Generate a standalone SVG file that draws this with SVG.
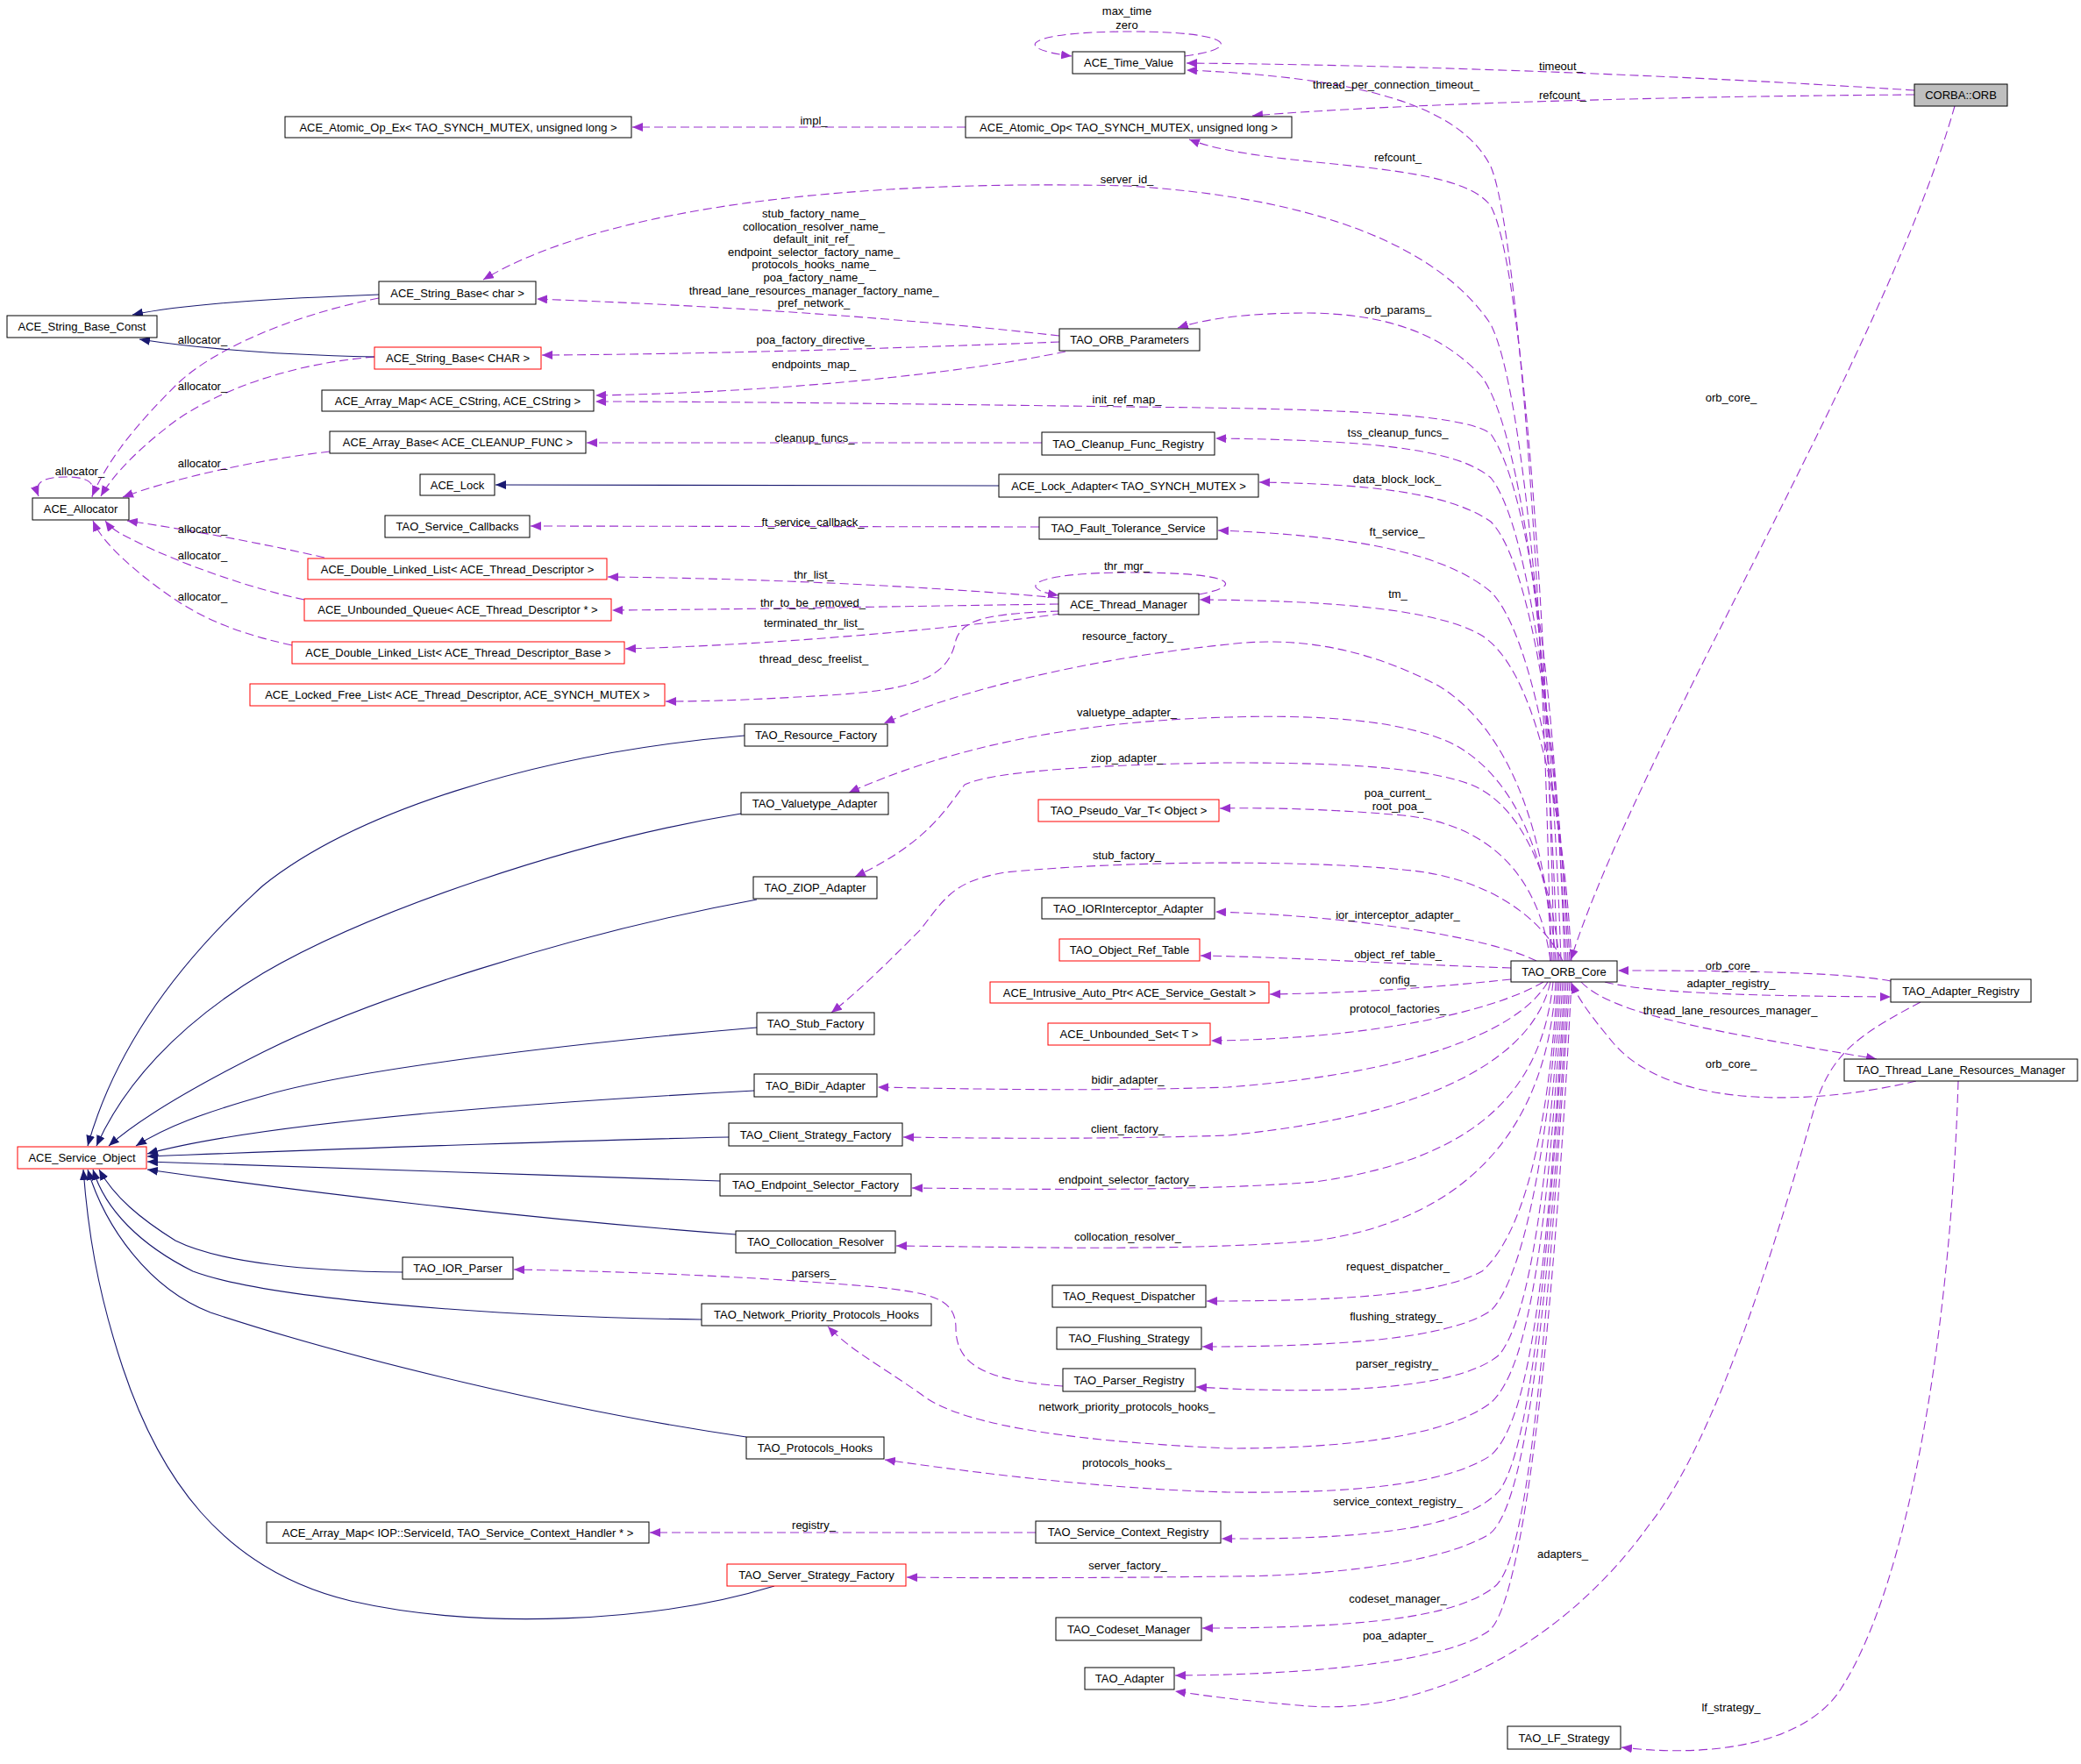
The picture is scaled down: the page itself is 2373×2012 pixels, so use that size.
<svg xmlns="http://www.w3.org/2000/svg" width="2373" height="2012" viewBox="0 0 2373 2012">
<defs>
<style>
.n rect{fill:#fff;stroke:#000;stroke-width:1}
.r rect{stroke:#f00}
.g rect{fill:#bfbfbf}
text{font-family:"Liberation Sans",Arial,sans-serif;font-size:13px;fill:#000;text-anchor:middle}
.u{fill:none;stroke:#9a32cd;stroke-width:1.1;stroke-dasharray:10,5;marker-end:url(#au)}
.i{fill:none;stroke:#191970;stroke-width:1.1;marker-end:url(#ai)}
</style>
<marker id="au" markerUnits="userSpaceOnUse" markerWidth="13" markerHeight="10" refX="12" refY="5" orient="auto"><path d="M0,0 L12,5 L0,10 z" fill="#9a32cd"/></marker>
<marker id="ai" markerUnits="userSpaceOnUse" markerWidth="13" markerHeight="10" refX="12" refY="5" orient="auto"><path d="M0,0 L12,5 L0,10 z" fill="#191970"/></marker>
</defs>
<rect width="2373" height="2012" fill="#fff"/>
<g id="edges">
<path class="u" d="M1351,64 C1420,55 1405,36 1290,36 C1170,36 1150,55 1222,64"/>
<path class="u" d="M2183,103 C1900,85 1600,74 1353,72"/>
<path class="u" d="M1768,1096 C1762,700 1730,260 1700,190 C1665,120 1550,88 1353,80"/>
<path class="u" d="M2183,108 C1900,110 1600,118 1428,132"/>
<path class="u" d="M1772,1096 C1765,700 1735,300 1700,235 C1660,180 1450,195 1356,159"/>
<path class="u" d="M1101,145 L721,145"/>
<path class="u" d="M1776,1096 C1765,800 1740,450 1700,370 C1640,280 1500,225 1285,212 C1000,205 700,230 551,319"/>
<path class="u" d="M1208,383 C1050,365 850,350 612,341"/>
<path class="u" d="M1208,390 C1000,398 800,404 618,405"/>
<path class="u" d="M1215,401 C1100,425 900,447 679,451"/>
<path class="u" d="M1780,1096 C1770,800 1740,500 1690,430 C1640,375 1570,358 1493,357 C1430,357 1380,362 1343,374"/>
<path class="u" d="M1784,1096 C1775,800 1745,560 1700,495 C1670,470 1500,466 1285,464 C1000,460 800,458 679,458"/>
<path class="u" d="M1786,1096 C1775,850 1745,600 1700,545 C1660,510 1550,502 1386,500"/>
<path class="u" d="M1188,505 L669,505"/>
<path class="u" d="M1788,1096 C1778,850 1745,640 1700,595 C1650,560 1550,552 1436,550"/>
<path class="u" d="M1185,601 L605,600"/>
<path class="u" d="M1790,1096 C1780,900 1745,720 1700,675 C1640,625 1520,610 1389,605"/>
<path class="u" d="M1367,678 C1420,668 1410,653 1290,653 C1170,653 1160,672 1207,679"/>
<path class="u" d="M1207,682 C1100,672 900,660 693,658"/>
<path class="u" d="M1207,689 C1000,692 850,695 698,696"/>
<path class="u" d="M1210,700 C1100,715 900,735 713,740"/>
<path class="u" d="M1208,697 C1130,700 1098,705 1090,730 C1082,770 1050,785 960,792 C880,797 820,800 759,800"/>
<path class="u" d="M1792,1096 C1782,900 1745,760 1690,725 C1640,695 1520,685 1368,684"/>
<path class="u" d="M1770,1096 C1765,950 1720,830 1640,782 C1560,740 1480,725 1400,735 C1250,750 1100,785 1008,825"/>
<path class="u" d="M1774,1096 C1765,980 1730,890 1660,850 C1600,820 1500,815 1400,818 C1250,822 1100,845 968,904"/>
<path class="u" d="M1778,1096 C1770,1000 1735,920 1680,896 C1620,872 1500,870 1400,870 C1250,872 1130,880 1100,895 C1080,920 1060,960 975,1000"/>
<path class="u" d="M1782,1096 C1760,1050 1700,1000 1600,992 C1500,982 1300,980 1146,995 C1090,1005 1080,1020 1050,1060 C1010,1100 980,1130 948,1155"/>
<path class="u" d="M1768,1096 C1755,1000 1700,940 1600,930 C1520,923 1450,921 1391,922"/>
<path class="u" d="M1752,1096 C1700,1070 1550,1045 1386,1040"/>
<path class="u" d="M1723,1104 C1600,1100 1480,1092 1369,1090"/>
<path class="u" d="M1723,1117 C1620,1128 1530,1133 1448,1134"/>
<path class="u" d="M1760,1120 C1700,1155 1560,1185 1381,1187"/>
<path class="u" d="M1765,1120 C1730,1180 1600,1225 1400,1240 C1250,1245 1100,1242 1001,1240"/>
<path class="u" d="M1768,1120 C1750,1200 1650,1270 1400,1295 C1250,1300 1100,1298 1030,1297"/>
<path class="u" d="M1771,1120 C1760,1230 1700,1320 1500,1348 C1350,1360 1150,1356 1040,1355"/>
<path class="u" d="M1774,1120 C1765,1280 1680,1390 1500,1415 C1350,1428 1150,1422 1022,1421"/>
<path class="u" d="M1776,1120 C1765,1300 1735,1410 1690,1450 C1640,1478 1520,1484 1376,1484"/>
<path class="u" d="M1778,1120 C1765,1320 1735,1460 1700,1495 C1650,1528 1520,1536 1371,1536"/>
<path class="u" d="M1780,1120 C1765,1350 1745,1500 1710,1545 C1660,1588 1500,1590 1364,1582"/>
<path class="u" d="M1212,1581 C1130,1575 1090,1560 1090,1515 C1090,1480 1060,1475 1000,1468 C850,1455 700,1450 586,1448"/>
<path class="u" d="M1782,1120 C1765,1400 1745,1560 1700,1600 C1640,1645 1500,1652 1400,1652 C1250,1645 1100,1630 1050,1590 C1000,1555 970,1540 944,1513"/>
<path class="u" d="M1784,1120 C1765,1450 1745,1620 1700,1660 C1640,1700 1500,1703 1400,1702 C1250,1698 1100,1678 1009,1665"/>
<path class="u" d="M1786,1120 C1765,1450 1745,1650 1710,1700 C1670,1745 1550,1756 1393,1755"/>
<path class="u" d="M1181,1748 L741,1748"/>
<path class="u" d="M1788,1120 C1765,1500 1740,1720 1698,1750 C1640,1785 1500,1798 1400,1798 C1250,1800 1100,1800 1034,1799"/>
<path class="u" d="M1790,1120 C1765,1500 1745,1780 1704,1810 C1660,1845 1550,1857 1371,1857"/>
<path class="u" d="M1792,1120 C1770,1550 1735,1830 1698,1860 C1650,1895 1500,1910 1340,1911"/>
<path class="u" d="M2190,1143 C2120,1180 2090,1200 2070,1260 C2030,1400 1960,1640 1880,1740 C1780,1880 1620,1960 1480,1945 C1420,1940 1380,1935 1340,1929"/>
<path class="u" d="M2233,1233 C2225,1500 2180,1800 2100,1925 C2060,1990 1950,2005 1849,1993"/>
<path class="u" d="M2229,121 C2150,400 1870,850 1791,1095"/>
<path class="u" d="M2156,1119 C2100,1108 1950,1107 1845,1107"/>
<path class="u" d="M1830,1120 C1880,1133 2000,1136 2156,1137"/>
<path class="u" d="M1803,1120 C1840,1160 1980,1180 2140,1208"/>
<path class="u" d="M2185,1233 C2050,1265 1900,1260 1840,1190 C1815,1160 1800,1140 1792,1121"/>
<path class="u" d="M432,340 C330,360 240,400 200,440 C160,480 125,520 105,566"/>
<path class="u" d="M427,407 C330,415 250,445 200,480 C160,510 130,540 115,566"/>
<path class="u" d="M376,515 C290,525 200,545 140,567"/>
<path class="u" d="M105,567 C110,550 100,544 75,544 C50,544 38,550 44,566"/>
<path class="u" d="M370,636 C300,620 220,605 145,594"/>
<path class="u" d="M347,684 C280,670 200,640 160,620 C140,610 128,605 120,594"/>
<path class="u" d="M333,736 C260,720 220,700 180,670 C140,640 115,615 106,594"/>
<path class="i" d="M432,336 C330,340 220,345 151,359"/>
<path class="i" d="M427,407 C330,405 230,398 159,387"/>
<path class="i" d="M1139,554 L565,553"/>
<path class="i" d="M849,839 C600,860 400,930 300,1010 C200,1100 130,1200 100,1307"/>
<path class="i" d="M845,928 C650,960 420,1040 300,1110 C200,1170 140,1240 110,1307"/>
<path class="i" d="M863,1026 C650,1065 420,1140 300,1200 C220,1240 160,1275 124,1307"/>
<path class="i" d="M863,1172 C650,1190 400,1220 300,1250 C230,1270 190,1285 155,1307"/>
<path class="i" d="M860,1244 C600,1258 300,1280 168,1316"/>
<path class="i" d="M831,1297 C600,1302 350,1312 168,1319"/>
<path class="i" d="M821,1347 C600,1340 350,1330 168,1325"/>
<path class="i" d="M839,1408 C600,1390 350,1360 168,1334"/>
<path class="i" d="M459,1451 C350,1450 250,1440 200,1415 C160,1390 130,1365 113,1334"/>
<path class="i" d="M800,1505 C550,1502 300,1480 220,1450 C160,1420 120,1380 106,1334"/>
<path class="i" d="M851,1639 C650,1610 400,1550 240,1497 C170,1470 120,1400 100,1334"/>
<path class="i" d="M883,1809 C750,1850 550,1860 400,1826 C250,1790 180,1680 140,1560 C110,1470 100,1400 95,1334"/>
</g>
<g id="edge-labels">
<text x="1285" y="17">max_time</text>
<text x="1285" y="32.5">zero</text>
<text x="1780" y="79.5">timeout_</text>
<text x="1592" y="100.5">thread_per_connection_timeout_</text>
<text x="1782" y="112.5">refcount_</text>
<text x="928" y="141.5">impl_</text>
<text x="1594" y="183.5">refcount_</text>
<text x="1285" y="208.5">server_id_</text>
<text x="928" y="248">stub_factory_name_</text>
<text x="928" y="262.6">collocation_resolver_name_</text>
<text x="928" y="277.2">default_init_ref_</text>
<text x="928" y="291.8">endpoint_selector_factory_name_</text>
<text x="928" y="306.4">protocols_hooks_name_</text>
<text x="928" y="321">poa_factory_name_</text>
<text x="928" y="335.6">thread_lane_resources_manager_factory_name_</text>
<text x="928" y="350.2">pref_network_</text>
<text x="1594" y="357.5">orb_params_</text>
<text x="928" y="392">poa_factory_directive_</text>
<text x="231" y="391.5">allocator_</text>
<text x="928" y="419.5">endpoints_map_</text>
<text x="231" y="444.5">allocator_</text>
<text x="1974" y="457.5">orb_core_</text>
<text x="1285" y="459.5">init_ref_map_</text>
<text x="1594" y="497.5">tss_cleanup_funcs_</text>
<text x="929" y="503.5">cleanup_funcs_</text>
<text x="231" y="532.5">allocator_</text>
<text x="91" y="541.5">allocator_</text>
<text x="1593" y="550.5">data_block_lock_</text>
<text x="927" y="599.5">ft_service_callback_</text>
<text x="231" y="607.5">allocator_</text>
<text x="1593" y="610.5">ft_service_</text>
<text x="231" y="637.5">allocator_</text>
<text x="1285" y="649.5">thr_mgr_</text>
<text x="928" y="659.5">thr_list_</text>
<text x="1594" y="681.5">tm_</text>
<text x="231" y="684.5">allocator_</text>
<text x="927" y="691.5">thr_to_be_removed_</text>
<text x="928" y="714.5">terminated_thr_list_</text>
<text x="1286" y="729.5">resource_factory_</text>
<text x="928" y="755.5">thread_desc_freelist_</text>
<text x="1285" y="816.5">valuetype_adapter_</text>
<text x="1285" y="868.5">ziop_adapter_</text>
<text x="1594" y="908.5">poa_current_</text>
<text x="1594" y="923.5">root_poa_</text>
<text x="1285" y="979.5">stub_factory_</text>
<text x="1594" y="1047.5">ior_interceptor_adapter_</text>
<text x="1594" y="1092.5">object_ref_table_</text>
<text x="1974" y="1105.5">orb_core_</text>
<text x="1594" y="1121.5">config_</text>
<text x="1974" y="1125.5">adapter_registry_</text>
<text x="1594" y="1154.5">protocol_factories_</text>
<text x="1973" y="1156.5">thread_lane_resources_manager_</text>
<text x="1974" y="1217.5">orb_core_</text>
<text x="1286" y="1235.5">bidir_adapter_</text>
<text x="1286" y="1291.5">client_factory_</text>
<text x="1285" y="1349.5">endpoint_selector_factory_</text>
<text x="1286" y="1414.5">collocation_resolver_</text>
<text x="1594" y="1448.5">request_dispatcher_</text>
<text x="928" y="1456.5">parsers_</text>
<text x="1592" y="1505.5">flushing_strategy_</text>
<text x="1593" y="1559.5">parser_registry_</text>
<text x="1285" y="1609">network_priority_protocols_hooks_</text>
<text x="1285" y="1672.5">protocols_hooks_</text>
<text x="1594" y="1716.5">service_context_registry_</text>
<text x="928" y="1743.5">registry_</text>
<text x="1782" y="1776.5">adapters_</text>
<text x="1286" y="1789.5">server_factory_</text>
<text x="1594" y="1827.5">codeset_manager_</text>
<text x="1594" y="1869.5">poa_adapter_</text>
<text x="1974" y="1951.5">lf_strategy_</text>
</g>
<g id="n_CORBA_ORB" class="n g"><rect x="2183" y="96" width="106" height="25"/><text x="2236" y="113">CORBA::ORB</text></g>
<g id="n_ACE_Time_Value" class="n"><rect x="1223" y="59" width="128" height="25"/><text x="1287" y="76">ACE_Time_Value</text></g>
<g id="n_ACE_Atomic_Op" class="n"><rect x="1101" y="133" width="372" height="24"/><text x="1287" y="149.5">ACE_Atomic_Op&lt; TAO_SYNCH_MUTEX, unsigned long &gt;</text></g>
<g id="n_ACE_Atomic_Op_Ex" class="n"><rect x="325" y="133" width="395" height="24"/><text x="522.5" y="149.5">ACE_Atomic_Op_Ex&lt; TAO_SYNCH_MUTEX, unsigned long &gt;</text></g>
<g id="n_ACE_String_Base_char" class="n"><rect x="432" y="321" width="179" height="26"/><text x="521.5" y="338.5">ACE_String_Base&lt; char &gt;</text></g>
<g id="n_ACE_String_Base_Const" class="n"><rect x="8" y="360" width="171" height="25"/><text x="93.5" y="377">ACE_String_Base_Const</text></g>
<g id="n_ACE_String_Base_CHAR" class="n r"><rect x="427" y="396" width="190" height="25"/><text x="522" y="413">ACE_String_Base&lt; CHAR &gt;</text></g>
<g id="n_ACE_Array_Map_CString" class="n"><rect x="367" y="445" width="310" height="24"/><text x="522" y="461.5">ACE_Array_Map&lt; ACE_CString, ACE_CString &gt;</text></g>
<g id="n_ACE_Array_Base" class="n"><rect x="376" y="492" width="292" height="25"/><text x="522" y="509">ACE_Array_Base&lt; ACE_CLEANUP_FUNC &gt;</text></g>
<g id="n_ACE_Lock" class="n"><rect x="479" y="541" width="85" height="24"/><text x="521.5" y="557.5">ACE_Lock</text></g>
<g id="n_TAO_Service_Callbacks" class="n"><rect x="439" y="588" width="165" height="25"/><text x="521.5" y="605">TAO_Service_Callbacks</text></g>
<g id="n_ACE_Allocator" class="n"><rect x="37" y="568" width="110" height="25"/><text x="92" y="585">ACE_Allocator</text></g>
<g id="n_ACE_DLL_TD" class="n r"><rect x="351" y="637" width="341" height="24"/><text x="521.5" y="653.5">ACE_Double_Linked_List&lt; ACE_Thread_Descriptor &gt;</text></g>
<g id="n_ACE_Unbounded_Queue" class="n r"><rect x="347" y="683" width="350" height="25"/><text x="522" y="700">ACE_Unbounded_Queue&lt; ACE_Thread_Descriptor * &gt;</text></g>
<g id="n_ACE_DLL_TDB" class="n r"><rect x="333" y="732" width="379" height="25"/><text x="522.5" y="749">ACE_Double_Linked_List&lt; ACE_Thread_Descriptor_Base &gt;</text></g>
<g id="n_ACE_Locked_Free_List" class="n r"><rect x="285" y="780" width="473" height="25"/><text x="521.5" y="797">ACE_Locked_Free_List&lt; ACE_Thread_Descriptor, ACE_SYNCH_MUTEX &gt;</text></g>
<g id="n_ACE_Service_Object" class="n r"><rect x="20" y="1308" width="147" height="25"/><text x="93.5" y="1325">ACE_Service_Object</text></g>
<g id="n_TAO_ORB_Parameters" class="n"><rect x="1208" y="375" width="160" height="25"/><text x="1288" y="392">TAO_ORB_Parameters</text></g>
<g id="n_TAO_Cleanup_Func_Registry" class="n"><rect x="1188" y="493" width="197" height="26"/><text x="1286.5" y="510.5">TAO_Cleanup_Func_Registry</text></g>
<g id="n_ACE_Lock_Adapter" class="n"><rect x="1139" y="541" width="296" height="26"/><text x="1287" y="558.5">ACE_Lock_Adapter&lt; TAO_SYNCH_MUTEX &gt;</text></g>
<g id="n_TAO_Fault_Tolerance_Service" class="n"><rect x="1185" y="590" width="203" height="25"/><text x="1286.5" y="607">TAO_Fault_Tolerance_Service</text></g>
<g id="n_ACE_Thread_Manager" class="n"><rect x="1207" y="677" width="160" height="24"/><text x="1287" y="693.5">ACE_Thread_Manager</text></g>
<g id="n_TAO_Resource_Factory" class="n"><rect x="849" y="826" width="163" height="25"/><text x="930.5" y="843">TAO_Resource_Factory</text></g>
<g id="n_TAO_Valuetype_Adapter" class="n"><rect x="845" y="904" width="168" height="25"/><text x="929" y="921">TAO_Valuetype_Adapter</text></g>
<g id="n_TAO_ZIOP_Adapter" class="n"><rect x="859" y="1000" width="141" height="25"/><text x="929.5" y="1017">TAO_ZIOP_Adapter</text></g>
<g id="n_TAO_Stub_Factory" class="n"><rect x="863" y="1155" width="134" height="25"/><text x="930" y="1172">TAO_Stub_Factory</text></g>
<g id="n_TAO_BiDir_Adapter" class="n"><rect x="860" y="1225" width="140" height="26"/><text x="930" y="1242.5">TAO_BiDir_Adapter</text></g>
<g id="n_TAO_Client_Strategy_Factory" class="n"><rect x="831" y="1281" width="198" height="26"/><text x="930" y="1298.5">TAO_Client_Strategy_Factory</text></g>
<g id="n_TAO_Endpoint_Selector_Factory" class="n"><rect x="821" y="1339" width="218" height="25"/><text x="930" y="1356">TAO_Endpoint_Selector_Factory</text></g>
<g id="n_TAO_Collocation_Resolver" class="n"><rect x="839" y="1404" width="182" height="25"/><text x="930" y="1421">TAO_Collocation_Resolver</text></g>
<g id="n_TAO_IOR_Parser" class="n"><rect x="459" y="1434" width="126" height="25"/><text x="522" y="1451">TAO_IOR_Parser</text></g>
<g id="n_TAO_NPPH" class="n"><rect x="800" y="1487" width="262" height="25"/><text x="931" y="1504">TAO_Network_Priority_Protocols_Hooks</text></g>
<g id="n_TAO_Protocols_Hooks" class="n"><rect x="851" y="1639" width="157" height="25"/><text x="929.5" y="1656">TAO_Protocols_Hooks</text></g>
<g id="n_ACE_Array_Map_IOP" class="n"><rect x="304" y="1736" width="436" height="24"/><text x="522" y="1752.5">ACE_Array_Map&lt; IOP::ServiceId, TAO_Service_Context_Handler * &gt;</text></g>
<g id="n_TAO_Server_Strategy_Factory" class="n r"><rect x="829" y="1784" width="204" height="25"/><text x="931" y="1801">TAO_Server_Strategy_Factory</text></g>
<g id="n_TAO_Pseudo_Var_T" class="n r"><rect x="1184" y="912" width="206" height="25"/><text x="1287" y="929">TAO_Pseudo_Var_T&lt; Object &gt;</text></g>
<g id="n_TAO_IORInterceptor_Adapter" class="n"><rect x="1188" y="1024" width="197" height="24"/><text x="1286.5" y="1040.5">TAO_IORInterceptor_Adapter</text></g>
<g id="n_TAO_Object_Ref_Table" class="n r"><rect x="1208" y="1071" width="160" height="25"/><text x="1288" y="1088">TAO_Object_Ref_Table</text></g>
<g id="n_ACE_Intrusive_Auto_Ptr" class="n r"><rect x="1129" y="1120" width="318" height="24"/><text x="1288" y="1136.5">ACE_Intrusive_Auto_Ptr&lt; ACE_Service_Gestalt &gt;</text></g>
<g id="n_ACE_Unbounded_Set" class="n r"><rect x="1195" y="1167" width="185" height="25"/><text x="1287.5" y="1184">ACE_Unbounded_Set&lt; T &gt;</text></g>
<g id="n_TAO_Request_Dispatcher" class="n"><rect x="1200" y="1466" width="175" height="25"/><text x="1287.5" y="1483">TAO_Request_Dispatcher</text></g>
<g id="n_TAO_Flushing_Strategy" class="n"><rect x="1205" y="1514" width="165" height="25"/><text x="1287.5" y="1531">TAO_Flushing_Strategy</text></g>
<g id="n_TAO_Parser_Registry" class="n"><rect x="1212" y="1561" width="151" height="26"/><text x="1287.5" y="1578.5">TAO_Parser_Registry</text></g>
<g id="n_TAO_Service_Context_Registry" class="n"><rect x="1181" y="1735" width="211" height="25"/><text x="1286.5" y="1752">TAO_Service_Context_Registry</text></g>
<g id="n_TAO_Codeset_Manager" class="n"><rect x="1204" y="1845" width="166" height="26"/><text x="1287" y="1862.5">TAO_Codeset_Manager</text></g>
<g id="n_TAO_Adapter" class="n"><rect x="1237" y="1902" width="102" height="25"/><text x="1288" y="1919">TAO_Adapter</text></g>
<g id="n_TAO_ORB_Core" class="n"><rect x="1723" y="1096" width="121" height="24"/><text x="1783.5" y="1112.5">TAO_ORB_Core</text></g>
<g id="n_TAO_Adapter_Registry" class="n"><rect x="2156" y="1117" width="160" height="26"/><text x="2236" y="1134.5">TAO_Adapter_Registry</text></g>
<g id="n_TAO_TLRM" class="n"><rect x="2103" y="1208" width="266" height="25"/><text x="2236" y="1225">TAO_Thread_Lane_Resources_Manager</text></g>
<g id="n_TAO_LF_Strategy" class="n"><rect x="1719" y="1969" width="129" height="26"/><text x="1783.5" y="1986.5">TAO_LF_Strategy</text></g>
</svg>
